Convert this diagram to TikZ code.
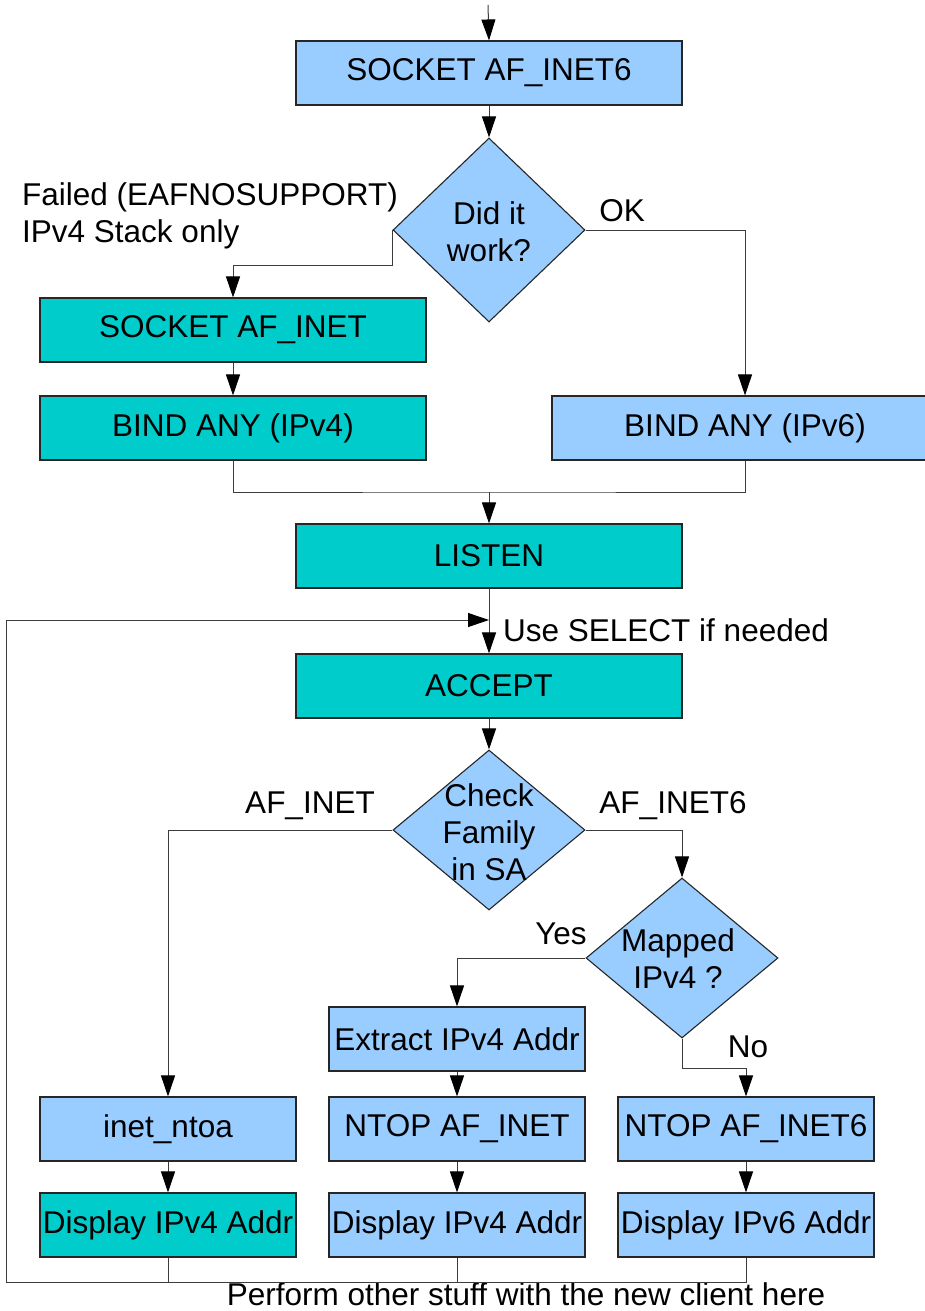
\documentclass[tikz,border=0pt]{standalone}
\usepackage{fontspec}
\setmainfont{Liberation Sans}
\usetikzlibrary{arrows.meta,shapes.geometric}
\definecolor{lblue}{RGB}{153,204,255}
\definecolor{tealc}{RGB}{0,204,204}
\definecolor{lnc}{RGB}{60,60,60}
\begin{document}
\begin{tikzpicture}[x=1pt,y=-1pt,
  every node/.style={font=\fontsize{31.5}{37}\selectfont, inner sep=0pt},
  boxbase/.style={draw=black!85, line width=1.1pt, rectangle, minimum height=64pt},
  bigblue/.style={boxbase, fill=lblue, minimum width=386pt},
  bigteal/.style={boxbase, fill=tealc, minimum width=386pt},
  smallblue/.style={boxbase, fill=lblue, minimum width=256pt},
  smallteal/.style={boxbase, fill=tealc, minimum width=256pt},
  dia/.style={diamond, draw=black!85, line width=1.1pt, fill=lblue, minimum width=192pt, minimum height=#1},
  conn/.style={draw=lnc, line width=1pt},
  arr/.style={conn, -{Triangle[length=21pt,width=14pt,color=black]}},
  lbl/.style={text=black}
]
\useasboundingbox (0,0) rectangle (924,1311);

% nodes
\coordinate (start) at (488,5);
\node[bigblue] (s6) at (489,73) {SOCKET AF\_INET6};
\node[dia=184pt] (d1) at (489,230) {};
\node[align=center] (d1t) at (489,232) {Did it\\work?};
\node[bigteal] (s4) at (233,330) {SOCKET AF\_INET};
\node[bigteal] (b4) at (233,428) {BIND ANY (IPv4)};
\node[bigblue] (b6) at (745,428) {BIND ANY (IPv6)};
\coordinate (m1) at (489,492);
\node[bigteal] (lis) at (489,556) {LISTEN};
\coordinate (lpin) at (489,620);
\node[bigteal] (acc) at (489,686) {ACCEPT};
\node[dia=160pt] (d2) at (489,830) {};
\node[align=center] (d2t) at (489,832) {Check\\Family\\in SA};
\node[dia=160pt] (d3) at (682,958) {};
\node[align=center] (d3t) at (678,959) {Mapped\\IPv4 ?};
\node[smallblue] (ext) at (457,1039) {Extract IPv4 Addr};
\node[smallblue] (ntop4) at (457,1129) {NTOP AF\_INET};
\node[smallblue] (disp4b) at (457,1225) {Display IPv4 Addr};
\node[smallblue] (inet) at (168,1129) {inet\_ntoa};
\node[smallteal] (disp4a) at (168,1225) {Display IPv4 Addr};
\node[smallblue] (ntop6) at (746,1129) {NTOP AF\_INET6};
\node[smallblue] (disp6) at (746,1225) {Display IPv6 Addr};
\coordinate (bot) at (6,1282);

% labels
\node[lbl, align=left, anchor=north west] (lfail) at (22,182) {Failed (EAFNOSUPPORT)\\IPv4 Stack only};
\node[lbl] (lok) at (622,211) {OK};
\node[lbl, anchor=west] (lsel) at (503,630) {Use SELECT if needed};
\node[lbl] (linet) at (310,806) {AF\_INET};
\node[lbl] (linet6) at (673,806) {AF\_INET6};
\node[lbl] (lyes) at (561,934) {Yes};
\node[lbl] (lno) at (748,1047) {No};
\node[lbl] (lperf) at (526,1294) {Perform other stuff with the new client here};

% connectors
\draw[arr] (start) -- (s6.north);
\draw[arr] (s6.south) -- (d1.north);
\draw[arr] (d1.west) -- ++(0,35) -| (s4.north);
\draw[arr] (d1.east) -| (b6.north);
\draw[arr] (s4.south) -- (b4.north);
\draw[conn] (b4.south) |- (m1) -| (b6.south);
\draw[arr] (m1) -- (lis.north);
\draw[arr] (lis.south) -- (acc.north);
\draw[arr] (disp6.south) |- (bot) |- (lpin);
\draw[conn] (disp4a.south) -- (disp4a.south |- bot);
\draw[conn] (disp4b.south) -- (disp4b.south |- bot);
\draw[arr] (acc.south) -- (d2.north);
\draw[arr] (d2.west) -| (inet.north);
\draw[arr] (d2.east) -| (d3.north);
\draw[arr] (d3.west) -| (ext.north);
\draw[arr] (d3.south) -- ++(0,30) -| (ntop6.north);
\draw[arr] (ext.south) -- (ntop4.north);
\draw[arr] (ntop4.south) -- (disp4b.north);
\draw[arr] (inet.south) -- (disp4a.north);
\draw[arr] (ntop6.south) -- (disp6.north);
\end{tikzpicture}
\end{document}
